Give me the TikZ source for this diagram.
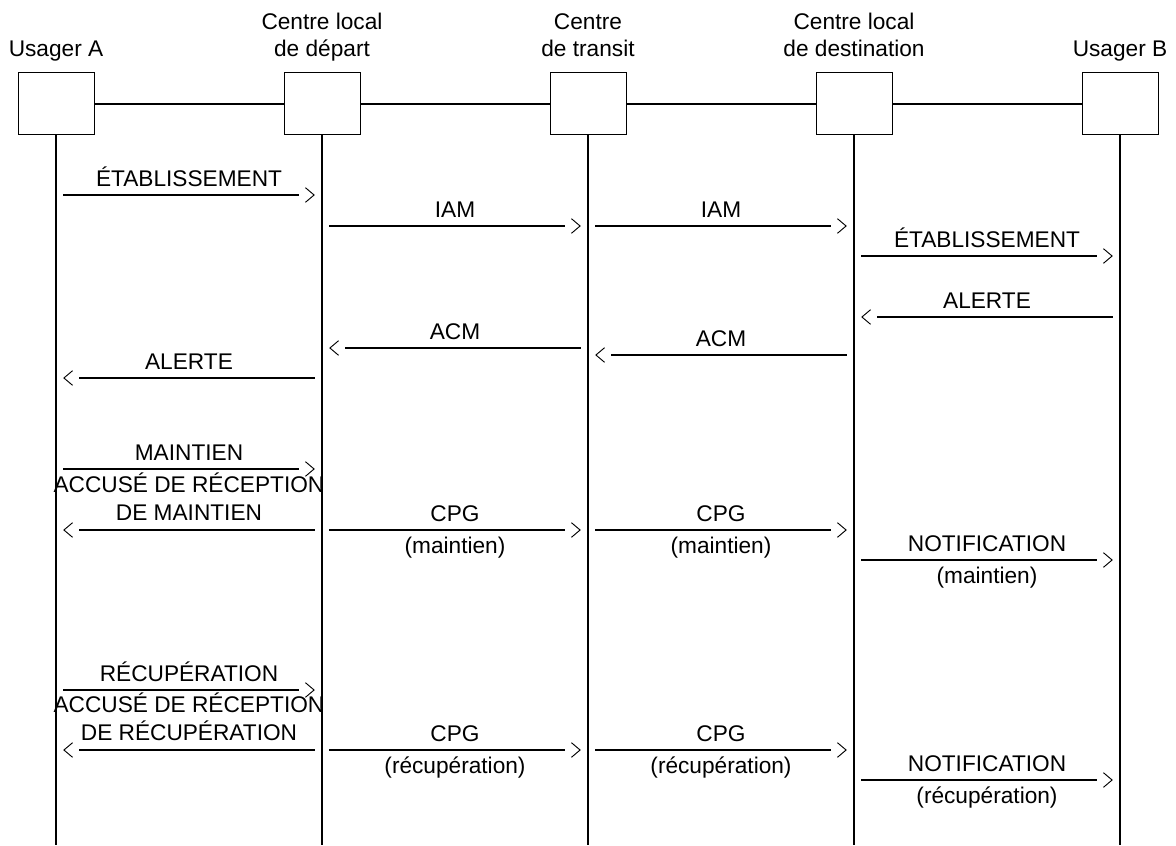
\documentclass[tikz,border=0pt]{standalone}
\usepackage{fontspec}
\setmainfont{Liberation Sans}
\usetikzlibrary{arrows.meta}
\begin{document}
\begin{tikzpicture}[x=0.75pt,y=-0.75pt,
  font=\fontsize{17}{20.3}\selectfont,
  ent/.style={draw,line width=0.75pt,minimum width=57pt,minimum height=46.5pt,inner sep=0pt},
  head/.style={align=center,anchor=base,inner sep=0pt},
  link/.style={line width=1.5pt},
  life/.style={line width=1.5pt},
  msg/.style={line width=1.5pt,shorten <=5.6pt,shorten >=17pt,
    postaction={draw,line width=0.7pt,shorten <=193pt,shorten >=5.4pt,
      -{Straight Barb[length=6.5pt,width=11pt]}}},
  lab/.style={anchor=base,inner sep=0pt,yshift=6.75pt},
  lab2/.style={align=center,anchor=base,inner sep=0pt,yshift=7.5pt},
  sub/.style={anchor=base,inner sep=0pt,yshift=-17.25pt}]
\useasboundingbox (0,0) rectangle (1176,845);
% entities
\node[ent] (uA) at (56,104) {};
\node[ent] (cD) at (322,104) {};
\node[ent] (cT) at (588,104) {};
\node[ent] (cA) at (854,104) {};
\node[ent] (uB) at (1120,104) {};
\node[head] (tA) at (56,57) {Usager A};
\node[head] (tD) at (322,57) {Centre local\\de départ};
\node[head] (tT) at (588,57) {Centre\\de transit};
\node[head] (tA2) at (854,57) {Centre local\\de destination};
\node[head] (tB) at (1120,57) {Usager B};
\draw[link] (uA) -- (cD);
\draw[link] (cD) -- (cT);
\draw[link] (cT) -- (cA);
\draw[link] (cA) -- (uB);
\foreach \n in {uA,cD,cT,cA,uB}{
  \draw[life] (\n.south) -- (\n.south |- 0,845);
}
% messages
\draw[msg] (uA |- 0,195) -- node[lab]{ÉTABLISSEMENT} (cD |- 0,195);
\draw[msg] (cD |- 0,226) -- node[lab]{IAM} (cT |- 0,226);
\draw[msg] (cT |- 0,226) -- node[lab]{IAM} (cA |- 0,226);
\draw[msg] (cA |- 0,256) -- node[lab]{ÉTABLISSEMENT} (uB |- 0,256);
\draw[msg] (uB |- 0,317) -- node[lab]{ALERTE} (cA |- 0,317);
\draw[msg] (cT |- 0,348) -- node[lab]{ACM} (cD |- 0,348);
\draw[msg] (cA |- 0,355) -- node[lab]{ACM} (cT |- 0,355);
\draw[msg] (cD |- 0,378) -- node[lab]{ALERTE} (uA |- 0,378);
\draw[msg] (uA |- 0,469) -- node[lab]{MAINTIEN} (cD |- 0,469);
\draw[msg] (cD |- 0,530) -- node[lab2]{ACCUSÉ DE RÉCEPTION\\DE MAINTIEN} (uA |- 0,530);
\draw[msg] (cD |- 0,530) -- node[lab]{CPG} node[sub]{(maintien)} (cT |- 0,530);
\draw[msg] (cT |- 0,530) -- node[lab]{CPG} node[sub]{(maintien)} (cA |- 0,530);
\draw[msg] (cA |- 0,560) -- node[lab]{NOTIFICATION} node[sub]{(maintien)} (uB |- 0,560);
\draw[msg] (uA |- 0,690) -- node[lab]{RÉCUPÉRATION} (cD |- 0,690);
\draw[msg] (cD |- 0,750) -- node[lab2]{ACCUSÉ DE RÉCEPTION\\DE RÉCUPÉRATION} (uA |- 0,750);
\draw[msg] (cD |- 0,750) -- node[lab]{CPG} node[sub]{(récupération)} (cT |- 0,750);
\draw[msg] (cT |- 0,750) -- node[lab]{CPG} node[sub]{(récupération)} (cA |- 0,750);
\draw[msg] (cA |- 0,780) -- node[lab]{NOTIFICATION} node[sub]{(récupération)} (uB |- 0,780);
\end{tikzpicture}
\end{document}
